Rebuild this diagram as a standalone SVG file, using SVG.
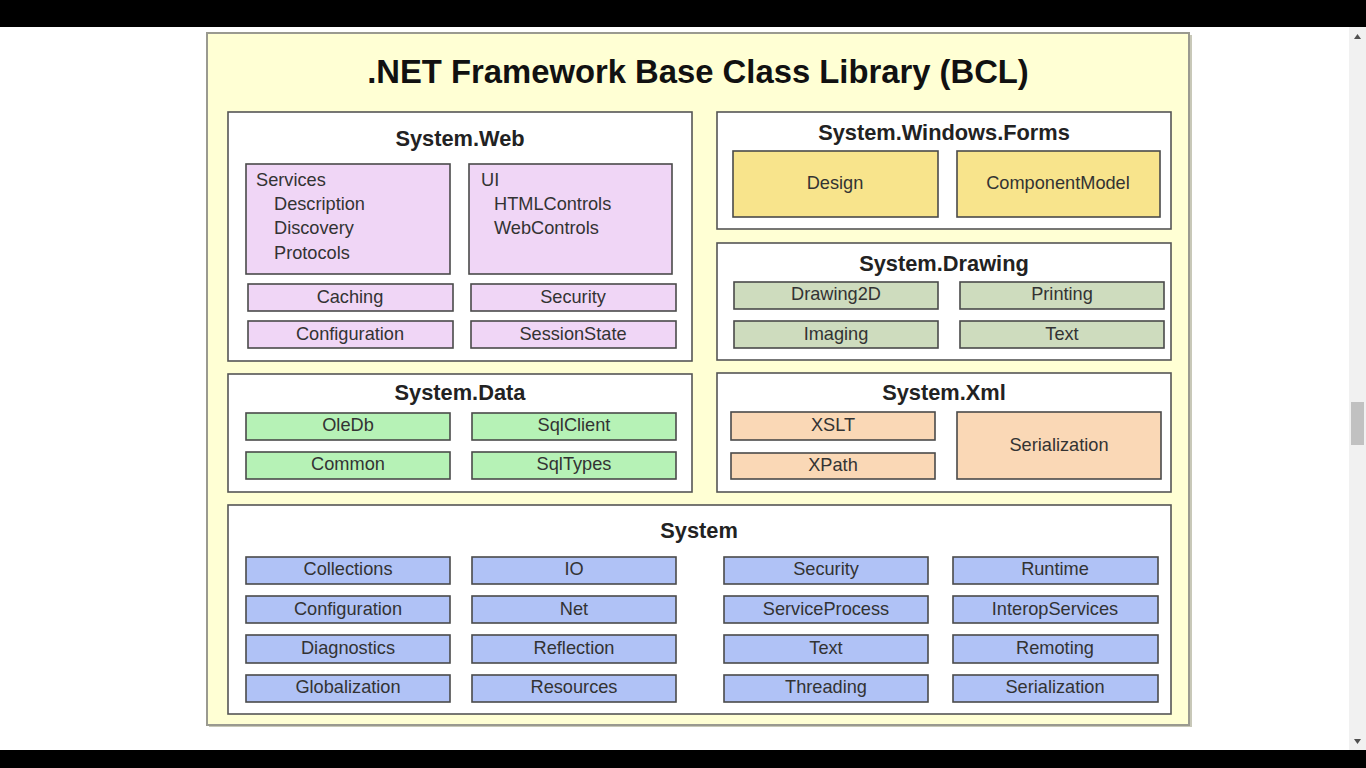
<svg xmlns="http://www.w3.org/2000/svg" width="1366" height="768" viewBox="0 0 1366 768">
<defs>
<style>
.bar{fill:#000}
.outer{fill:#ffffd4;stroke:#9a9a90;stroke-width:2}
.grp{fill:#fff;stroke:#555;stroke-width:1.6}
.box{stroke:#4a4a4a;stroke-width:1.6}
.pk{fill:#f0d6f6}
.gr{fill:#b6f2b6}
.yl{fill:#f8e48c}
.dg{fill:#cedcbe}
.pe{fill:#fad8b6}
.bl{fill:#b0c2f6}
.title{font-family:"Liberation Sans",Arial,sans-serif;font-weight:bold;font-size:32.8px;fill:#111;text-anchor:middle}
.gt{font-family:"Liberation Sans",Arial,sans-serif;font-weight:bold;font-size:21.8px;fill:#222;text-anchor:middle}
.t{font-family:"Liberation Sans",Arial,sans-serif;font-size:18.2px;fill:#333;text-anchor:middle}
.tl{font-family:"Liberation Sans",Arial,sans-serif;font-size:18.2px;fill:#333}
</style>
</defs>
<rect x="0" y="0" width="1366" height="768" fill="#fff"/>
<rect class="bar" x="0" y="0" width="1366" height="27"/>
<rect class="bar" x="0" y="750" width="1366" height="18"/>
<g id="scrollbar">
<rect x="1349" y="27" width="17" height="723" fill="#f1f1f1"/>
<rect x="1351" y="402" width="13" height="43" fill="#c1c1c1"/>
<path d="M1354 39 L1361 39 L1357.5 34 Z" fill="#505050"/>
<path d="M1354 739 L1361 739 L1357.5 744 Z" fill="#505050"/>
</g>
<g id="bcl">
<rect x="209" y="35" width="983" height="692" fill="#c8c8b8"/>
<rect class="outer" x="207" y="33" width="982" height="692"/>
<text class="title" x="698" y="83">.NET Framework Base Class Library (BCL)</text>
</g>
<g id="system-web">
<rect class="grp" x="228" y="112" width="464" height="249"/>
<text class="gt" x="460" y="146">System.Web</text>
<rect class="box pk" x="246" y="164" width="204" height="110"/>
<text class="tl" x="256" y="186">Services</text>
<text class="tl" x="274" y="210">Description</text>
<text class="tl" x="274" y="234">Discovery</text>
<text class="tl" x="274" y="259">Protocols</text>
<rect class="box pk" x="469" y="164" width="203" height="110"/>
<text class="tl" x="481" y="186">UI</text>
<text class="tl" x="494" y="210">HTMLControls</text>
<text class="tl" x="494" y="234">WebControls</text>
<rect class="box pk" x="248" y="284" width="205" height="27"/>
<text class="t" x="350" y="303">Caching</text>
<rect class="box pk" x="471" y="284" width="205" height="27"/>
<text class="t" x="573" y="303">Security</text>
<rect class="box pk" x="248" y="321" width="205" height="27"/>
<text class="t" x="350" y="340">Configuration</text>
<rect class="box pk" x="471" y="321" width="205" height="27"/>
<text class="t" x="573" y="340">SessionState</text>
</g>
<g id="system-data">
<rect class="grp" x="228" y="374" width="464" height="118"/>
<text class="gt" x="460" y="400">System.Data</text>
<rect class="box gr" x="246" y="413" width="204" height="27"/>
<text class="t" x="348" y="431">OleDb</text>
<rect class="box gr" x="472" y="413" width="204" height="27"/>
<text class="t" x="574" y="431">SqlClient</text>
<rect class="box gr" x="246" y="452" width="204" height="27"/>
<text class="t" x="348" y="470">Common</text>
<rect class="box gr" x="472" y="452" width="204" height="27"/>
<text class="t" x="574" y="470">SqlTypes</text>
</g>
<g id="system-windows-forms">
<rect class="grp" x="717" y="112" width="454" height="117"/>
<text class="gt" x="944" y="140">System.Windows.Forms</text>
<rect class="box yl" x="733" y="151" width="205" height="66"/>
<text class="t" x="835" y="189">Design</text>
<rect class="box yl" x="957" y="151" width="203" height="66"/>
<text class="t" x="1058" y="189">ComponentModel</text>
</g>
<g id="system-drawing">
<rect class="grp" x="717" y="243" width="454" height="117"/>
<text class="gt" x="944" y="271">System.Drawing</text>
<rect class="box dg" x="734" y="282" width="204" height="27"/>
<text class="t" x="836" y="300">Drawing2D</text>
<rect class="box dg" x="960" y="282" width="204" height="27"/>
<text class="t" x="1062" y="300">Printing</text>
<rect class="box dg" x="734" y="321" width="204" height="27"/>
<text class="t" x="836" y="340">Imaging</text>
<rect class="box dg" x="960" y="321" width="204" height="27"/>
<text class="t" x="1062" y="340">Text</text>
</g>
<g id="system-xml">
<rect class="grp" x="717" y="373" width="454" height="119"/>
<text class="gt" x="944" y="400">System.Xml</text>
<rect class="box pe" x="731" y="412" width="204" height="28"/>
<text class="t" x="833" y="431">XSLT</text>
<rect class="box pe" x="731" y="453" width="204" height="26"/>
<text class="t" x="833" y="471">XPath</text>
<rect class="box pe" x="957" y="412" width="204" height="67"/>
<text class="t" x="1059" y="451">Serialization</text>
</g>
<g id="system">
<rect class="grp" x="228" y="505" width="943" height="209"/>
<text class="gt" x="699" y="538">System</text>
<rect class="box bl" x="246" y="557" width="204" height="27"/>
<text class="t" x="348" y="575">Collections</text>
<rect class="box bl" x="472" y="557" width="204" height="27"/>
<text class="t" x="574" y="575">IO</text>
<rect class="box bl" x="724" y="557" width="204" height="27"/>
<text class="t" x="826" y="575">Security</text>
<rect class="box bl" x="953" y="557" width="205" height="27"/>
<text class="t" x="1055" y="575">Runtime</text>
<rect class="box bl" x="246" y="596" width="204" height="27"/>
<text class="t" x="348" y="615">Configuration</text>
<rect class="box bl" x="472" y="596" width="204" height="27"/>
<text class="t" x="574" y="615">Net</text>
<rect class="box bl" x="724" y="596" width="204" height="27"/>
<text class="t" x="826" y="615">ServiceProcess</text>
<rect class="box bl" x="953" y="596" width="205" height="27"/>
<text class="t" x="1055" y="615">InteropServices</text>
<rect class="box bl" x="246" y="635" width="204" height="28"/>
<text class="t" x="348" y="654">Diagnostics</text>
<rect class="box bl" x="472" y="635" width="204" height="28"/>
<text class="t" x="574" y="654">Reflection</text>
<rect class="box bl" x="724" y="635" width="204" height="28"/>
<text class="t" x="826" y="654">Text</text>
<rect class="box bl" x="953" y="635" width="205" height="28"/>
<text class="t" x="1055" y="654">Remoting</text>
<rect class="box bl" x="246" y="675" width="204" height="27"/>
<text class="t" x="348" y="693">Globalization</text>
<rect class="box bl" x="472" y="675" width="204" height="27"/>
<text class="t" x="574" y="693">Resources</text>
<rect class="box bl" x="724" y="675" width="204" height="27"/>
<text class="t" x="826" y="693">Threading</text>
<rect class="box bl" x="953" y="675" width="205" height="27"/>
<text class="t" x="1055" y="693">Serialization</text>
</g>
<g id="connectors"></g>
</svg>
